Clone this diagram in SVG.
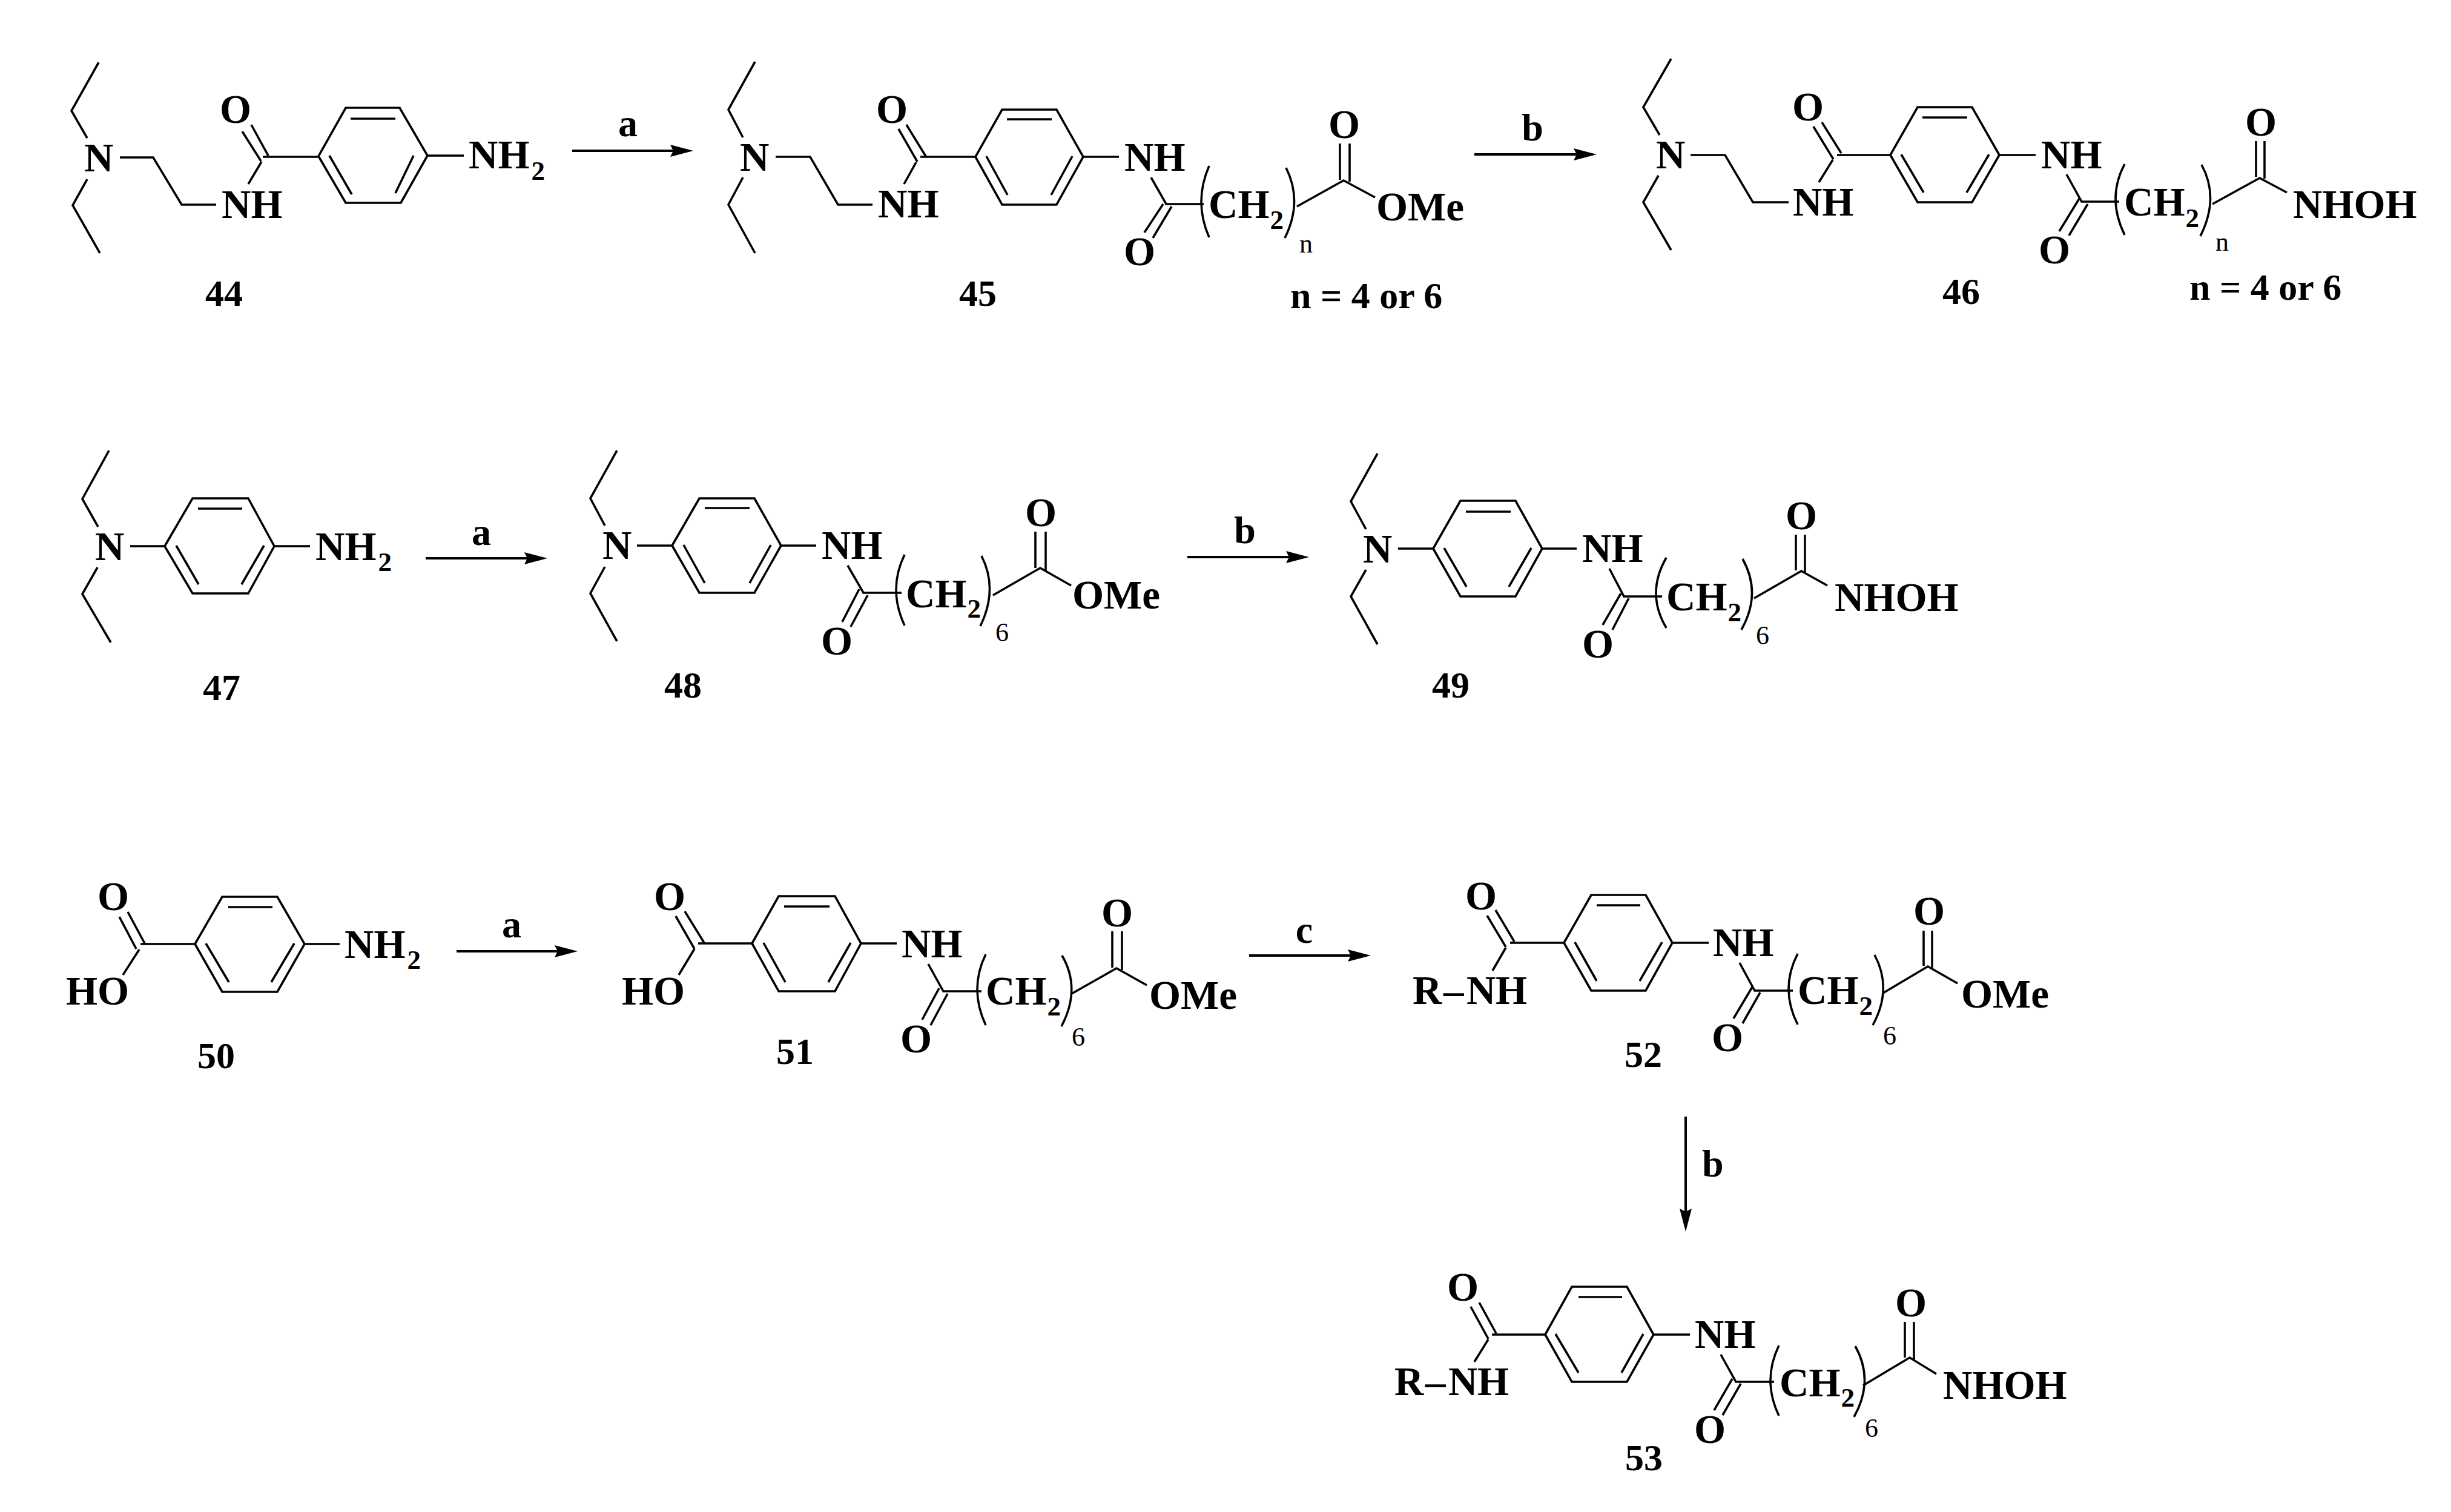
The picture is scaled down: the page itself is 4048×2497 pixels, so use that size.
<svg xmlns="http://www.w3.org/2000/svg" width="4048" height="2497" viewBox="0 0 4048 2497">
<style>
text{font-family:"Liberation Serif","Times New Roman",serif;font-weight:700;fill:#000}
.t{font-size:67px}
.s{font-size:45px}
.i{font-size:44px;font-weight:400}
.l{font-size:62px}
.r{font-size:64px}
.m{text-anchor:middle}
.b{fill:none;stroke:#000;stroke-width:3.6}
.a{fill:none;stroke:#000;stroke-width:4;marker-end:url(#head)}
</style>
<defs>
<marker id="head" markerUnits="userSpaceOnUse" markerWidth="40" markerHeight="22" refX="18" refY="11" orient="auto">
<path d="M38 11L0 1L5 11L0 21Z" fill="#000"/>
</marker>
</defs>
<rect width="4048" height="2497" fill="#fff"/>
<g id="connectors">
<path class="a" d="M945 249H1125"/>
<path class="a" d="M2435 255H2617"/>
<path class="a" d="M703 922H884"/>
<path class="a" d="M1961 920H2142"/>
<path class="a" d="M754 1571H934"/>
<path class="a" d="M2063 1578H2244"/>
<path class="a" d="M2784 1844V2014"/>
<text class="r m" x="1037" y="225">a</text>
<text class="r m" x="2531" y="232">b</text>
<text class="r m" x="795" y="900">a</text>
<text class="r m" x="2056" y="897">b</text>
<text class="r m" x="845" y="1548">a</text>
<text class="r m" x="2154" y="1557">c</text>
<text class="r" x="2811" y="1943">b</text>
</g>
<g id="compound-44">
<path class="b" d="M163 103L118 183L144 228M144 296L120 339L165 418M198 260H253L300 338H357M434 259H526M415 206L443 257M400 217L431 266M432 267L410 304M526 258L571 178H660L706 257L662 335H571L526 258M579 196H653M544 257L581 321M683 257L653 319M706 257H766"/>
<text class="t" x="139" y="283">N</text>
<text class="t" x="366" y="360">NH</text>
<text class="t" x="363" y="203">O</text>
<text class="t" x="774" y="278">NH<tspan class="s" dx="3" dy="19">2</tspan></text>
<text class="l" x="339" y="505">44</text>
</g>
<g id="compound-45">
<path class="b" d="M1247 102L1203 181L1227 227M1227 293L1203 338L1247 418M1281 259H1338L1384 338H1441M1520 259H1611M1497 206L1529 258M1484 213L1515 267M1513 268L1493 304M1611 259L1655 181H1745L1789 259L1745 338H1655L1611 259M1663 197H1737M1629 258L1664 322M1771 258L1736 322M1789 259H1848M1901 293L1926 337H1988M1935 341L1904 393M1921 337L1890 384M1997 274Q1971 333 1997 392M2124 277Q2152 333 2122 393M2142 341L2219 298L2271 326M2213 237V297M2229 237V300"/>
<text class="t" x="1222" y="282">N</text>
<text class="t" x="1450" y="359">NH</text>
<text class="t" x="1447" y="203">O</text>
<text class="t" x="1857" y="282">NH</text>
<text class="t" x="1856" y="438">O</text>
<text class="t" x="1996" y="360">CH<tspan class="s" dx="1" dy="18">2</tspan></text>
<text class="i" x="2146" y="417">n</text>
<text class="t" x="2194" y="228">O</text>
<text class="t" x="2273" y="364">OMe</text>
<text class="l" x="1584" y="505">45</text>
<text class="l" x="2131" y="509">n = 4 or 6</text>
</g>
<g id="compound-46">
<path class="b" d="M2760 97L2714 177L2741 223M2739 290L2714 334L2760 413M2792 256H2849L2895 334H2954M3034 256H3122M3009 202L3041 253M2995 209L3028 263M3027 264L3004 301M3122 256L3167 177H3257L3302 256L3257 334H3167L3122 256M3175 194H3249M3140 255L3177 318M3285 255L3248 318M3302 256H3362M3413 288L3438 333H3500M3448 337L3417 389M3434 328L3401 382M3509 271Q3479 327 3509 388M3636 272Q3666 327 3634 390M3654 337L3732 294L3777 318M3726 233V292M3740 233V295"/>
<text class="t" x="2735" y="278">N</text>
<text class="t" x="2961" y="356">NH</text>
<text class="t" x="2960" y="199">O</text>
<text class="t" x="3371" y="278">NH</text>
<text class="t" x="3367" y="435">O</text>
<text class="t" x="3508" y="356">CH<tspan class="s" dx="1" dy="19">2</tspan></text>
<text class="i" x="3659" y="414">n</text>
<text class="t" x="3708" y="224">O</text>
<text class="t" x="3787" y="360">NHOH</text>
<text class="l" x="3208" y="502">46</text>
<text class="l" x="3616" y="495">n = 4 or 6</text>
</g>
<g id="compound-47">
<path class="b" d="M180 744L136 824L162 870M161 937L136 981L183 1061M215 902H272M272 902L318 823H410L453 902L410 980H318L272 902M327 840H400M291 901L328 965M436 901L399 965M453 902H512"/>
<text class="t" x="157" y="925">N</text>
<text class="t" x="521" y="925">NH<tspan class="s" dx="3" dy="18">2</tspan></text>
<text class="l" x="335" y="1156">47</text>
</g>
<g id="compound-48">
<path class="b" d="M1019 744L975 823L999 868M999 936L975 980L1019 1059M1052 901H1110M1110 901L1155 823H1246L1290 901L1246 979H1155L1110 901M1164 839H1238M1129 900L1164 963M1273 900L1238 963M1290 901H1348M1400 934L1426 979H1489M1433 983L1405 1035M1419 973L1391 1027M1494 916Q1466 973 1494 1033M1621 918Q1649 973 1619 1034M1640 983L1718 938L1769 967M1710 878V938M1727 878V942"/>
<text class="t" x="995" y="923">N</text>
<text class="t" x="1357" y="923">NH</text>
<text class="t" x="1356" y="1081">O</text>
<text class="t" x="1496" y="1003">CH<tspan class="s" dx="1" dy="17">2</tspan></text>
<text class="i" x="1644" y="1059">6</text>
<text class="t" x="1693" y="869">O</text>
<text class="t" x="1771" y="1005">OMe</text>
<text class="l" x="1097" y="1152">48</text>
</g>
<g id="compound-49">
<path class="b" d="M2275 749L2231 828L2256 874M2256 941L2231 985L2275 1064M2309 906H2367M2367 906L2412 827H2503L2547 906L2503 985H2412L2367 906M2421 845H2495M2385 905L2422 969M2529 905L2492 969M2547 906H2604M2658 939L2682 985H2745M2690 988L2663 1040M2677 980L2647 1032M2752 921Q2718 980 2752 1037M2878 923Q2910 980 2876 1040M2897 988L2975 943L3018 967M2966 883V942M2981 883V945"/>
<text class="t" x="2251" y="929">N</text>
<text class="t" x="2613" y="928">NH</text>
<text class="t" x="2613" y="1086">O</text>
<text class="t" x="2752" y="1008">CH<tspan class="s" dx="1" dy="18">2</tspan></text>
<text class="i" x="2900" y="1064">6</text>
<text class="t" x="2949" y="874">O</text>
<text class="t" x="3030" y="1009">NHOH</text>
<text class="l" x="2365" y="1152">49</text>
</g>
<g id="compound-50">
<path class="b" d="M211 1506L239 1558M197 1514L225 1567M232 1559H322M230 1568L203 1610M322 1559L367 1481H458L503 1559L458 1638H367L322 1559M377 1498H450M340 1558L378 1622M486 1558L448 1622M503 1559H561"/>
<text class="t" x="161" y="1503">O</text>
<text class="t" x="109" y="1659">HO</text>
<text class="t" x="569" y="1582">NH<tspan class="s" dx="3" dy="18">2</tspan></text>
<text class="l" x="326" y="1764">50</text>
</g>
<g id="compound-51">
<path class="b" d="M1131 1505L1163 1557M1116 1513L1147 1567M1153 1558H1242M1147 1567L1121 1610M1242 1558L1286 1480H1379L1422 1558L1379 1637H1286L1242 1558M1295 1497H1370M1261 1557L1297 1622M1405 1557L1368 1622M1422 1558H1481M1533 1592L1558 1637H1621M1565 1641L1537 1693M1551 1632L1523 1684M1628 1576Q1600 1633 1628 1693M1754 1578Q1786 1633 1753 1695M1770 1641L1844 1599L1894 1627M1837 1538V1598M1853 1538V1602"/>
<text class="t" x="1080" y="1503">O</text>
<text class="t" x="1027" y="1659">HO</text>
<text class="t" x="1489" y="1581">NH</text>
<text class="t" x="1487" y="1738">O</text>
<text class="t" x="1628" y="1659">CH<tspan class="s" dx="1" dy="18">2</tspan></text>
<text class="i" x="1770" y="1727">6</text>
<text class="t" x="1819" y="1530">O</text>
<text class="t" x="1898" y="1666">OMe</text>
<text class="l" x="1282" y="1757">51</text>
</g>
<g id="compound-52">
<path class="b" d="M2470 1503L2501 1555M2456 1512L2487 1564M2494 1557H2583M2487 1565L2465 1603M2583 1557L2628 1478H2718L2762 1557L2718 1636H2628L2583 1557M2637 1495H2709M2601 1556L2637 1620M2745 1556L2708 1620M2762 1557H2822M2873 1590L2898 1636H2961M2907 1639L2878 1690M2894 1630L2863 1682M2969 1575Q2939 1633 2969 1692M3096 1577Q3126 1633 3093 1693M3110 1640L3184 1596L3233 1624M3177 1537V1595M3191 1537V1598"/>
<text class="t" x="2420" y="1502">O</text>
<text class="t" x="2333 2384 2422 2470" y="1658">R–NH</text>
<text class="t" x="2829" y="1579">NH</text>
<text class="t" x="2827" y="1736">O</text>
<text class="t" x="2969" y="1658">CH<tspan class="s" dx="1" dy="18">2</tspan></text>
<text class="i" x="3110" y="1725">6</text>
<text class="t" x="3160" y="1527">O</text>
<text class="t" x="3239" y="1664">OMe</text>
<text class="l" x="2683" y="1762">52</text>
</g>
<g id="compound-53">
<path class="b" d="M2443 2151L2471 2202M2429 2158L2458 2211M2464 2204H2552M2458 2212L2435 2249M2552 2204L2596 2125H2687L2731 2204L2687 2282H2596L2552 2204M2607 2142H2679M2569 2203L2607 2267M2714 2203L2678 2267M2731 2204H2791M2842 2237L2867 2282H2930M2875 2285L2845 2337M2861 2277L2831 2329M2938 2222Q2910 2280 2938 2338M3064 2223Q3096 2280 3062 2340M3077 2288L3154 2242L3198 2269M3146 2183V2242M3161 2183V2245"/>
<text class="t" x="2390" y="2148">O</text>
<text class="t" x="2303 2354 2392 2440" y="2304">R–NH</text>
<text class="t" x="2799" y="2226">NH</text>
<text class="t" x="2798" y="2383">O</text>
<text class="t" x="2939" y="2306">CH<tspan class="s" dx="1" dy="17">2</tspan></text>
<text class="i" x="3080" y="2373">6</text>
<text class="t" x="3130" y="2174">O</text>
<text class="t" x="3209" y="2310">NHOH</text>
<text class="l" x="2684" y="2428">53</text>
</g>
</svg>
